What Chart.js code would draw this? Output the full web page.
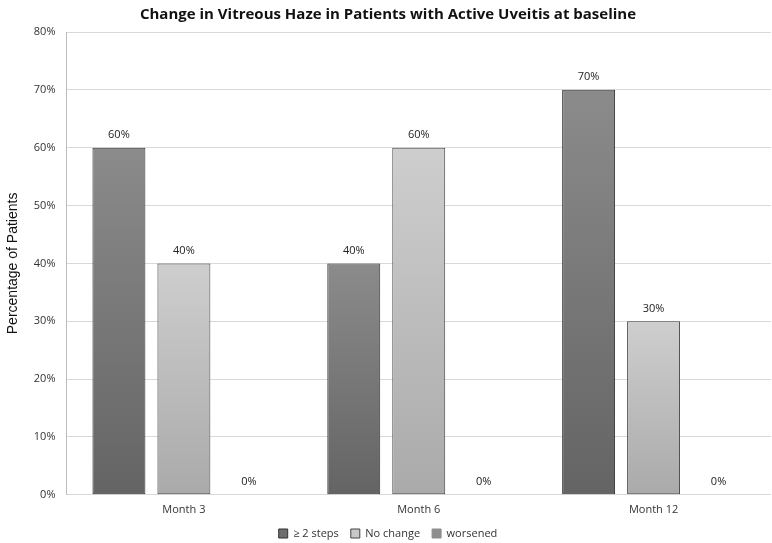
<!DOCTYPE html>
<html>
<head>
<meta charset="utf-8">
<script src="https://cdn.jsdelivr.net/npm/chart.js@4.4.1/dist/chart.umd.min.js"></script>
<style>
  html, body { margin: 0; padding: 0; background: #fff; }
  #wrap { width: 772px; height: 543px; }
</style>
</head>
<body>
<div id="wrap"><canvas id="hazeChart" width="772" height="543"></canvas></div>
<script>
// data
const months = ['Month 3', 'Month 6', 'Month 12'];
const improved = [60, 40, 70];   // ≥ 2 steps
const noChange = [40, 60, 30];
const worsened = [0, 0, 0];
const yTicks = [0, 10, 20, 30, 40, 50, 60, 70, 80];

// gradient per bar (lighter at the top, darker at the base)
function barGradient(top, bottom) {
  return function(context) {
    const chart = context.chart;
    const area = chart.chartArea;
    if (!area || context.parsed == null) return bottom;
    const y = chart.scales.y;
    const y0 = y.getPixelForValue(context.parsed.y);
    const y1 = y.getPixelForValue(0);
    if (y1 - y0 < 1) return bottom;
    const g = chart.ctx.createLinearGradient(0, y0, 0, y1);
    g.addColorStop(0, top);
    g.addColorStop(1, bottom);
    return g;
  };
}

// labels over the bars
const valueLabels = {
  id: 'valueLabels',
  afterDatasetsDraw(chart) {
    const ctx = chart.ctx;
    ctx.save();
    ctx.font = '11px "Open Sans", sans-serif';
    ctx.fillStyle = '#222';
    ctx.textAlign = 'center';
    ctx.textBaseline = 'bottom';
    chart.data.datasets.forEach((ds, i) => {
      chart.getDatasetMeta(i).data.forEach((bar, j) => {
        ctx.fillText(ds.data[j] + '%', bar.x, bar.y - 7);
      });
    });
    ctx.restore();
  }
};

const ctx = document.getElementById('hazeChart').getContext('2d');
new Chart(ctx, {
  type: 'bar',
  data: {
    labels: months,
    datasets: [
      {
        label: '≥ 2 steps',
        data: improved,
        backgroundColor: barGradient('#8b8b8b', '#646464'),
        borderColor: '#333',
        borderWidth: 1,
        borderSkipped: false
      },
      {
        label: 'No change',
        data: noChange,
        backgroundColor: barGradient('#cecece', '#aaaaaa'),
        borderColor: '#444',
        borderWidth: 1,
        borderSkipped: false
      },
      {
        label: 'worsened',
        data: worsened,
        backgroundColor: '#8e8e8e',
        borderColor: '#8e8e8e',
        borderWidth: 0
      }
    ]
  },
  plugins: [valueLabels],
  options: {
    responsive: false,
    animation: false,
    layout: { padding: { top: 3, right: 1, left: 5, bottom: -6 } },
    datasets: {
      bar: { categoryPercentage: 0.83, barPercentage: 0.815 }
    },
    scales: {
      y: {
        min: 0,
        max: 80,
        afterBuildTicks(axis) { axis.ticks = yTicks.map(v => ({ value: v })); },
        ticks: {
          callback: v => v + '%',
          color: '#333',
          font: { family: '"Open Sans", sans-serif', size: 11 },
          padding: 11
        },
        grid: { color: '#d9d9d9', drawTicks: false },
        border: { color: '#bdbdbd' },
        title: {
          display: true,
          text: 'Percentage of Patients',
          color: '#111',
          font: { family: '"Liberation Sans", Arial, sans-serif', size: 14 },
          padding: { top: 0, bottom: 1 }
        }
      },
      x: {
        ticks: {
          color: '#333',
          font: { family: '"Open Sans", sans-serif', size: 11 },
          padding: 0
        },
        grid: { display: false },
        border: { display: false }
      }
    },
    plugins: {
      title: {
        display: true,
        text: 'Change in Vitreous Haze in Patients with Active Uveitis at baseline',
        color: '#111',
        font: { family: '"Open Sans", sans-serif', size: 15, weight: 'bold' },
        padding: { top: 3, bottom: 8 }
      },
      legend: {
        position: 'bottom',
        labels: {
          boxWidth: 9,
          boxHeight: 9,
          padding: 12,
          color: '#333',
          font: { family: '"Open Sans", sans-serif', size: 11 },
          generateLabels(chart) {
            const fills = ['#6e6e6e', '#c8c8c8', '#8e8e8e'];
            const strokes = ['#333', '#444', '#8e8e8e'];
            return chart.data.datasets.map((ds, i) => ({
              text: ds.label,
              fillStyle: fills[i],
              strokeStyle: strokes[i],
              lineWidth: 1,
              fontColor: '#333',
              datasetIndex: i
            }));
          }
        }
      },
      tooltip: { enabled: false }
    }
  }
});
</script>
</body>
</html>
